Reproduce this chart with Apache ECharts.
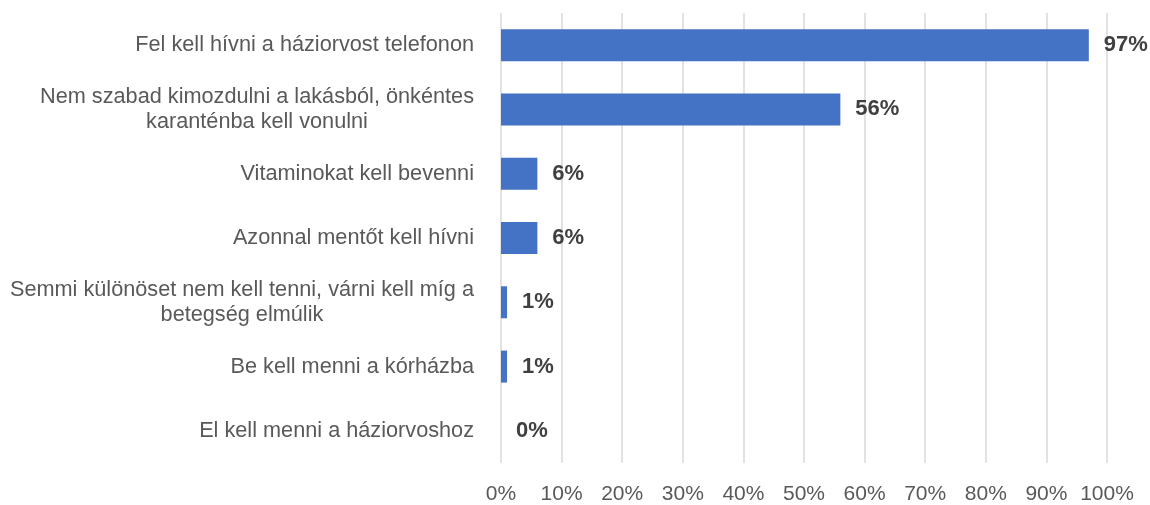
<!DOCTYPE html>
<html>
<head>
<meta charset="utf-8">
<script src="https://cdn.jsdelivr.net/npm/echarts@6/dist/echarts.min.js"></script>
<style>
  html, body { margin: 0; padding: 0; background: #fff; }
  #chart { width: 1150px; height: 505px; }
</style>
</head>
<body>
<div id="chart"></div>
<script>
const categories = [
  'Fel kell hívni a háziorvost telefonon',
  'Nem szabad kimozdulni a lakásból, önkéntes\nkaranténba kell vonulni',
  'Vitaminokat kell bevenni',
  'Azonnal mentőt kell hívni',
  'Semmi különöset nem kell tenni, várni kell míg a\nbetegség elmúlik',
  'Be kell menni a kórházba',
  'El kell menni a háziorvoshoz'
]
const values = [97, 56, 6, 6, 1, 1, 0]
const xTicks = [0, 10, 20, 30, 40, 50, 60, 70, 80, 90, 100]

const chart = echarts.init(document.getElementById('chart'))

chart.setOption({
  animation: false,
  textStyle: { fontFamily: 'Liberation Sans, Arial, sans-serif' },
  grid: { left: 501, right: 43, top: 13, bottom: 42, containLabel: false },
  xAxis: {
    type: 'value',
    min: xTicks[0],
    max: xTicks[xTicks.length - 1],
    interval: 10,
    axisLine: { show: false },
    axisTick: { show: false },
    axisLabel: {
      formatter: '{value}%',
      fontSize: 21,
      color: '#595959',
      margin: 21
    },
    splitLine: { lineStyle: { color: '#d9d9d9', width: 1.5 } }
  },
  yAxis: {
    type: 'category',
    data: categories,
    inverse: true,
    axisLine: { show: false },
    axisTick: { show: false },
    axisLabel: {
      margin: 27,
      fontSize: 21.7,
      color: '#595959',
      lineHeight: 25,
      formatter: v => v.split('\n').map(s => '{c|' + s + '}').join('\n'),
      rich: {
        c: { align: 'center', fontSize: 21.7, color: '#595959', lineHeight: 25 }
      }
    }
  },
  series: [{
    type: 'bar',
    data: values,
    barWidth: 32,
    itemStyle: { color: '#4472C4' },
    label: {
      show: true,
      position: 'right',
      distance: 15,
      formatter: '{c}%',
      fontSize: 22,
      fontWeight: 'bold',
      color: '#404040'
    }
  }]
})
</script>
</body>
</html>
